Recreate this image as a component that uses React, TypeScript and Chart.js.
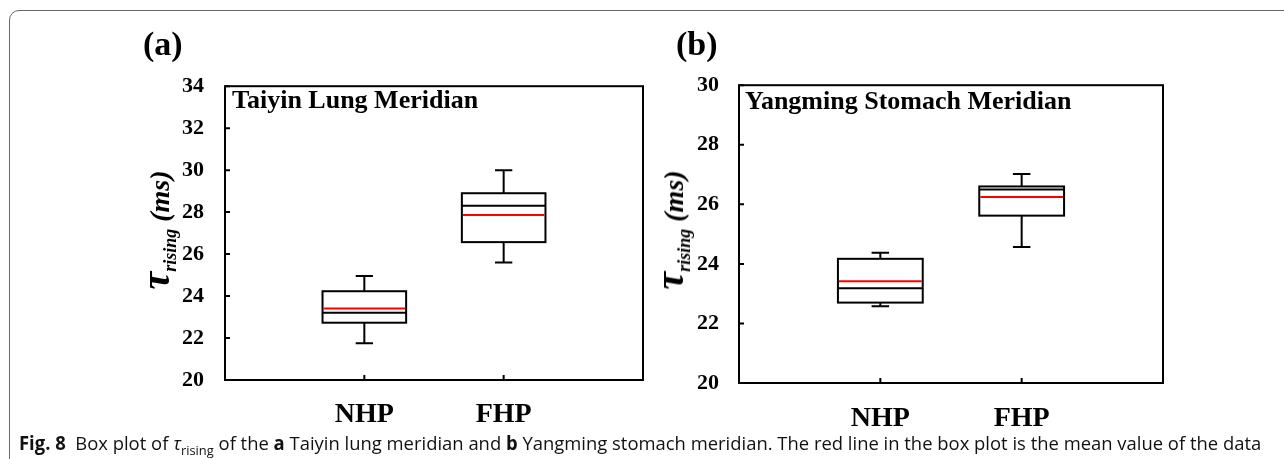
import React, { useEffect, useLayoutEffect, useRef } from 'react';
import { Chart, registerables } from 'chart.js';

Chart.register(...registerables);

// ---------- data ----------
const categories = ['NHP', 'FHP'];
const categoryPositions = [1, 2];

// Panel (a) Taiyin Lung Meridian
const taiyinMin = [21.75, 25.6];
const taiyinQ1 = [22.73, 26.57];
const taiyinMedian = [23.21, 28.3];
const taiyinMean = [23.41, 27.86];
const taiyinQ3 = [24.23, 28.9];
const taiyinMax = [24.95, 30.0];
const taiyinTicks = [20, 22, 24, 26, 28, 30, 32, 34];

// Panel (b) Yangming Stomach Meridian
const yangmingMin = [22.58, 24.57];
const yangmingQ1 = [22.7, 25.62];
const yangmingMedian = [23.18, 26.5];
const yangmingMean = [23.42, 26.25];
const yangmingQ3 = [24.17, 26.6];
const yangmingMax = [24.37, 27.02];
const yangmingTicks = [20, 22, 24, 26, 28, 30];

const BOX_HALF = 0.3;
const CAP_HALF = 0.062;
const SERIF = '"Liberation Serif", "Times New Roman", serif';

type Stats = {
  min: number[]; q1: number[]; median: number[]; mean: number[]; q3: number[]; max: number[];
};

function boxPlugin(stats: Stats) {
  return {
    id: 'boxplot',
    afterDatasetsDraw(chart: any) {
      const { ctx, chartArea, scales } = chart;
      const x = scales.x;
      const y = scales.y;
      ctx.save();
      ctx.lineCap = 'butt';
      categoryPositions.forEach((p, i) => {
        const cx = x.getPixelForValue(p);
        const hw = x.getPixelForValue(p + BOX_HALF) - cx;
        const cw = x.getPixelForValue(p + CAP_HALF) - cx;
        const yMin = y.getPixelForValue(stats.min[i]);
        const yQ1 = y.getPixelForValue(stats.q1[i]);
        const yMed = y.getPixelForValue(stats.median[i]);
        const yMean = y.getPixelForValue(stats.mean[i]);
        const yQ3 = y.getPixelForValue(stats.q3[i]);
        const yMax = y.getPixelForValue(stats.max[i]);
        ctx.strokeStyle = '#000';
        ctx.lineWidth = 2;
        ctx.beginPath();
        ctx.moveTo(cx, yQ3); ctx.lineTo(cx, yMax);
        ctx.moveTo(cx - cw, yMax); ctx.lineTo(cx + cw, yMax);
        ctx.moveTo(cx, yQ1); ctx.lineTo(cx, yMin);
        ctx.moveTo(cx - cw, yMin); ctx.lineTo(cx + cw, yMin);
        ctx.stroke();
        ctx.strokeRect(cx - hw, yQ3, 2 * hw, yQ1 - yQ3);
        ctx.beginPath();
        ctx.moveTo(cx - hw, yMed); ctx.lineTo(cx + hw, yMed);
        ctx.stroke();
        ctx.strokeStyle = '#ff0000';
        ctx.beginPath();
        ctx.moveTo(cx - hw + 1, yMean); ctx.lineTo(cx + hw - 1, yMean);
        ctx.stroke();
      });
      // frame
      ctx.strokeStyle = '#000';
      ctx.lineWidth = 2;
      ctx.strokeRect(chartArea.left, chartArea.top, chartArea.right - chartArea.left, chartArea.bottom - chartArea.top);
      // inward ticks
      ctx.beginPath();
      y.ticks.forEach((t: any) => {
        const py = y.getPixelForValue(t.value);
        ctx.moveTo(chartArea.left, py); ctx.lineTo(chartArea.left + 5, py);
      });
      categoryPositions.forEach((p) => {
        const px = x.getPixelForValue(p);
        ctx.moveTo(px, chartArea.bottom); ctx.lineTo(px, chartArea.bottom - 5);
      });
      ctx.stroke();
      ctx.restore();
    },
  };
}

type PanelProps = {
  left: number; top: number; width: number; height: number;
  padTop: number; padRight: number; yWidth: number; xHeight: number; xPad: number; yPad: number;
  yMin: number; yMax: number; ticks: number[]; stats: Stats;
};

function Panel(props: PanelProps) {
  const ref = useRef<HTMLCanvasElement | null>(null);
  useEffect(() => {
    if (!ref.current) return;
    const { stats } = props;
    const chart = new Chart(ref.current, {
      type: 'scatter',
      data: {
        datasets: [
          {
            label: 'median',
            data: categoryPositions.map((p, i) => ({ x: p, y: stats.median[i] })),
            pointRadius: 0,
            showLine: false,
          },
        ],
      },
      options: {
        animation: false,
        responsive: false,
        maintainAspectRatio: false,
        devicePixelRatio: 1,
        layout: { padding: { top: props.padTop, right: props.padRight, left: 0, bottom: 0 } },
        plugins: { legend: { display: false }, tooltip: { enabled: false } },
        scales: {
          x: {
            type: 'linear',
            min: 0,
            max: 3,
            grid: { display: false },
            border: { display: false },
            afterBuildTicks: (s: any) => { s.ticks = categoryPositions.map((v) => ({ value: v })); },
            afterFit: (s: any) => { s.height = props.xHeight; },
            ticks: {
              autoSkip: false,
              maxRotation: 0,
              padding: props.xPad,
              color: '#000',
              font: { family: SERIF, weight: 'bold', size: 28 },
              callback: (v: any) => {
                const idx = categoryPositions.indexOf(Number(v));
                return idx >= 0 ? categories[idx] : '';
              },
            },
          },
          y: {
            type: 'linear',
            min: props.yMin,
            max: props.yMax,
            grid: { display: false },
            border: { display: false },
            afterBuildTicks: (s: any) => { s.ticks = props.ticks.map((v) => ({ value: v })); },
            afterFit: (s: any) => { s.width = props.yWidth; },
            ticks: {
              autoSkip: false,
              padding: props.yPad,
              color: '#000',
              font: { family: SERIF, weight: 'bold', size: 22 },
            },
          },
        },
      } as any,
      plugins: [boxPlugin(stats) as any],
    });
    return () => chart.destroy();
  }, []);
  return (
    <canvas
      ref={ref}
      width={props.width}
      height={props.height}
      style={{ position: 'absolute', left: props.left, top: props.top, width: props.width, height: props.height }}
    />
  );
}

function YTitle({ cx, cy }: { cx: number; cy: number }) {
  return (
    <div
      style={{
        position: 'absolute', left: cx, top: cy,
        transform: 'translate(-50%, -50%) rotate(-90deg)',
        whiteSpace: 'nowrap', fontFamily: SERIF, fontWeight: 'bold', fontStyle: 'italic',
        fontSize: 28, lineHeight: '32px', color: '#000',
      }}
    >
      <span style={{ fontSize: 40 }}>τ</span>
      <sub style={{ fontSize: 18, lineHeight: 0 }}>rising</sub> (ms)
    </div>
  );
}

function Text({ left, top, size, children }: any) {
  return (
    <div
      style={{
        position: 'absolute', left, top, whiteSpace: 'nowrap', fontFamily: SERIF,
        fontWeight: 'bold', fontSize: size, lineHeight: `${size}px`, color: '#000',
      }}
    >
      {children}
    </div>
  );
}

export default function App() {
  const capRef = useRef<HTMLDivElement | null>(null);
  useLayoutEffect(() => {
    const fit = () => {
      const el = capRef.current;
      if (!el) return;
      el.style.transform = 'none';
      const w = el.scrollWidth;
      if (w > 0) el.style.transform = `scaleX(${1242 / w})`;
    };
    fit();
    if ((document as any).fonts && (document as any).fonts.ready) (document as any).fonts.ready.then(fit);
  }, []);

  const statsA: Stats = { min: taiyinMin, q1: taiyinQ1, median: taiyinMedian, mean: taiyinMean, q3: taiyinQ3, max: taiyinMax };
  const statsB: Stats = { min: yangmingMin, q1: yangmingQ1, median: yangmingMedian, mean: yangmingMean, q3: yangmingQ3, max: yangmingMax };

  return (
    <div style={{ position: 'absolute', left: 0, top: 0, width: 1284, height: 459, overflow: 'hidden', background: '#fff' }}>
      <div style={{ position: 'absolute', left: 9, top: 10, width: 1320, height: 480, border: '1px solid #6a6a6a', borderRadius: 10, boxSizing: 'border-box' }} />
      <Panel left={120} top={60} width={540} height={370} padTop={18} padRight={17} yWidth={105} xHeight={50} xPad={10} yPad={13}
        yMin={20} yMax={34} ticks={taiyinTicks} stats={statsA} />
      <Panel left={680} top={60} width={520} height={375} padTop={18} padRight={37} yWidth={59} xHeight={52} xPad={11} yPad={12}
        yMin={20} yMax={30} ticks={yangmingTicks} stats={statsB} />
      <Text left={143} top={27} size={34}>(a)</Text>
      <Text left={676} top={27} size={34}>(b)</Text>
      <Text left={232} top={86.5} size={26}>Taiyin Lung Meridian</Text>
      <Text left={745} top={88.2} size={26}>Yangming Stomach Meridian</Text>
      <YTitle cx={158} cy={230} />
      <YTitle cx={672} cy={230} />
      <div
        ref={capRef}
        style={{
          position: 'absolute', left: 19, top: 433, whiteSpace: 'nowrap', fontFamily: '"Open Sans", "Noto Sans", sans-serif',
          fontSize: 19, lineHeight: '20px', color: '#111', transformOrigin: 'left top',
        }}
      >
        <b>Fig. 8</b>&nbsp; Box plot of <i>τ</i><sub style={{ fontSize: '0.7em', lineHeight: 0 }}>rising</sub> of the <b>a</b> Taiyin lung meridian and <b>b</b> Yangming stomach meridian. The red line in the box plot is the mean value of the data
      </div>
    </div>
  );
}
